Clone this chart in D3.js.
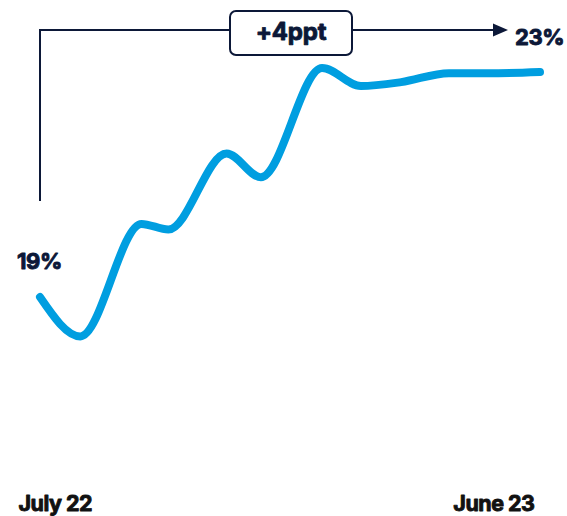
<!DOCTYPE html>
<html>
<head>
<meta charset="utf-8">
<script src="https://cdn.jsdelivr.net/npm/d3@7"></script>
<style>
  html, body { margin: 0; padding: 0; background: #fff; }
  svg { display: block; }
  text { font-family: Inter, "Open Sans", sans-serif; font-weight: 700; stroke-linejoin: round; }
</style>
</head>
<body>
<svg id="chart" width="567" height="516"></svg>
<script>
// Share over time, July 2022 – June 2023 (%)
const dates = [
  "2022-07-01", "2022-07-28", "2022-09-07", "2022-09-25",
  "2022-11-03", "2022-11-26", "2023-01-06",
  "2023-02-01", "2023-02-28", "2023-04-01", "2023-05-04", "2023-06-01"
];
const values = [
  19.0, 18.3, 20.3, 20.2,
  21.55, 21.13, 23.07,
  22.75, 22.82, 22.98, 22.98, 23.0
];
const tickLabels = ["July 22", "June 23"];
const changeLabel = "+4ppt";

const parse = d3.timeParse("%Y-%m-%d");
const data = dates.map((d, i) => ({ date: parse(d), value: values[i] }));
const first = data[0], last = data[data.length - 1];

const navy = "#0c1838";
const blue = "#009ee0";

const svg = d3.select("#chart");

const x = d3.scaleTime()
  .domain([first.date, last.date])
  .range([40, 540]);

const y = d3.scaleLinear()
  .domain([19, 23])
  .range([297, 72]);

// Heavy label styling: a thin stroke of the fill colour thickens the glyphs
function heavy(sel, colour, size, spacing) {
  sel.attr("fill", colour)
    .attr("stroke", colour)
    .attr("stroke-width", 0.9)
    .style("font-size", size + "px")
    .style("letter-spacing", spacing + "px");
}

// Axis with only the first and last month labelled
const axis = d3.axisBottom(x)
  .tickValues([first.date, last.date])
  .tickFormat((d, i) => tickLabels[i])
  .tickSize(0)
  .tickPadding(0);

const gx = svg.append("g")
  .attr("transform", "translate(0,511)")
  .call(axis);
gx.select(".domain").remove();
gx.selectAll("text")
  .attr("y", 0)
  .attr("dy", 0)
  .call(heavy, "#111", 21.5, -0.5)
  .attr("text-anchor", (d, i) => i === 0 ? "start" : "end")
  .attr("dx", (d, i) => i === 0 ? -22 : -6);

// Series line
const line = d3.line()
  .x(d => x(d.date))
  .y(d => y(d.value))
  .curve(d3.curveMonotoneX);

svg.append("path")
  .datum(data)
  .attr("d", line)
  .attr("fill", "none")
  .attr("stroke", blue)
  .attr("stroke-width", 8)
  .attr("stroke-linecap", "round")
  .attr("stroke-linejoin", "round");

// Start / end value labels
svg.append("text")
  .attr("x", x(first.date) - 23)
  .attr("y", y(first.value) - 28)
  .call(heavy, navy, 22, -0.4)
  .text(d3.format(".0f")(first.value) + "%");

svg.append("text")
  .attr("x", x(last.date) - 25)
  .attr("y", 45)
  .call(heavy, navy, 22, -0.4)
  .text(d3.format(".0f")(last.value) + "%");

// Change bracket: up from the start, across to an arrow at the end
const bracketY = 30;
const arrowTip = x(last.date) - 32;

svg.append("path")
  .attr("d", `M${x(first.date)},201 V${bracketY} H${arrowTip - 10}`)
  .attr("fill", "none")
  .attr("stroke", navy)
  .attr("stroke-width", 2);

svg.append("path")
  .attr("d", `M${arrowTip - 15},${bracketY - 6.5} L${arrowTip},${bracketY} L${arrowTip - 15},${bracketY + 6.5} Z`)
  .attr("fill", navy);

// Change label box
const boxX = 230, boxW = 122, boxY = 11, boxH = 44;
svg.append("rect")
  .attr("x", boxX)
  .attr("y", boxY)
  .attr("width", boxW)
  .attr("height", boxH)
  .attr("rx", 6)
  .attr("fill", "#fff")
  .attr("stroke", navy)
  .attr("stroke-width", 2);

svg.append("text")
  .attr("x", boxX + boxW / 2)
  .attr("y", 40)
  .attr("text-anchor", "middle")
  .call(heavy, navy, 24, -0.2)
  .text(changeLabel);
</script>
</body>
</html>
